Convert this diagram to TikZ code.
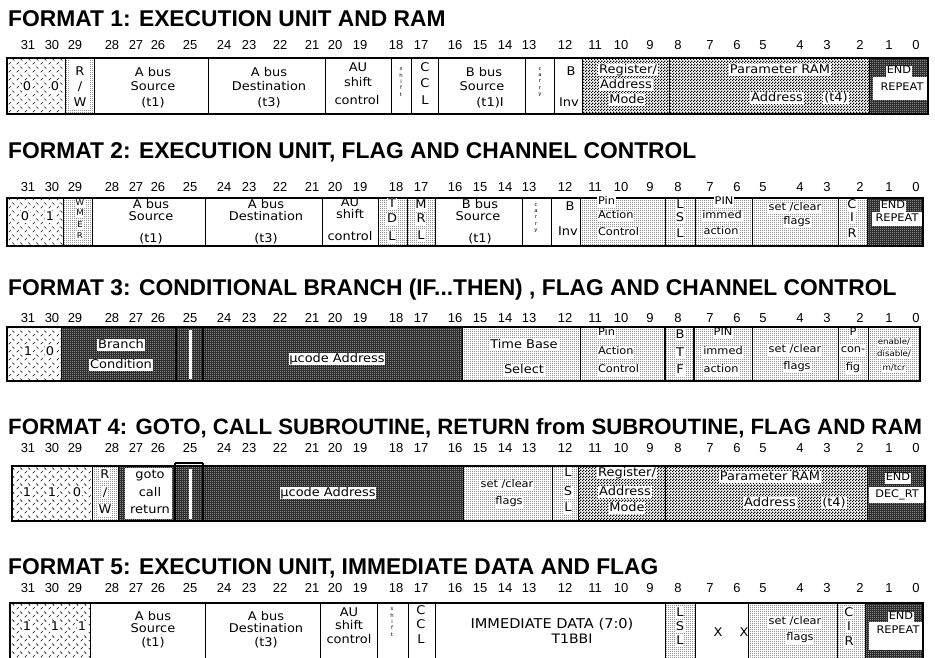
\documentclass[tikz,border=0pt]{standalone}
\usepackage{fontspec}
\setmainfont{Liberation Sans}
\newfontfamily\labfont[FakeStretch=1.08]{DejaVu Sans}
\usetikzlibrary{patterns}
\pgfdeclarepatternformonly{hdash}{\pgfqpoint{0pt}{0pt}}{\pgfqpoint{8pt}{8pt}}{\pgfqpoint{8pt}{8pt}}{%
  \pgfsetlinewidth{0.6pt}%
  \pgfpathmoveto{\pgfqpoint{0.8pt}{0.8pt}}\pgfpathlineto{\pgfqpoint{3pt}{3pt}}%
  \pgfpathmoveto{\pgfqpoint{4.8pt}{7pt}}\pgfpathlineto{\pgfqpoint{7pt}{4.8pt}}%
  \pgfusepath{stroke}}
\pgfdeclarepatternformonly{ldots}{\pgfqpoint{0pt}{0pt}}{\pgfqpoint{2pt}{2pt}}{\pgfqpoint{2pt}{2pt}}{%
  \pgfpathrectangle{\pgfqpoint{0pt}{0pt}}{\pgfqpoint{0.75pt}{0.75pt}}\pgfusepath{fill}}
\pgfdeclarepatternformonly{chk}{\pgfqpoint{0pt}{0pt}}{\pgfqpoint{3pt}{3pt}}{\pgfqpoint{3pt}{3pt}}{%
  \pgfpathrectangle{\pgfqpoint{0pt}{0pt}}{\pgfqpoint{1.5pt}{1.5pt}}%
  \pgfpathrectangle{\pgfqpoint{1.5pt}{1.5pt}}{\pgfqpoint{1.5pt}{1.5pt}}\pgfusepath{fill}}
\pgfdeclarepatternformonly{wdots}{\pgfqpoint{0pt}{0pt}}{\pgfqpoint{2pt}{2pt}}{\pgfqpoint{2pt}{2pt}}{%
  \pgfpathrectangle{\pgfqpoint{0pt}{0pt}}{\pgfqpoint{0.8pt}{0.8pt}}\pgfusepath{fill}}
\newcommand\bitrow[1]{%
  \foreach \b/\x in {31/28,30/52,29/75,28/112,27/136,26/158,25/190,24/224,23/249,22/280,21/312,20/335,19/360,18/396,17/421,16/455,15/480,14/505,13/529,12/565,11/595,10/621,9/650,8/678,7/710,6/737,5/763,4/800,3/827,2/860,1/889,0/916}
    \node[bn] (b#1-\b) at (\x,#1) {\b};}
\begin{document}
\begin{tikzpicture}[x=1pt,y=-1pt,
  ttl/.style={anchor=base west,inner sep=0,font=\fontsize{22.8}{22.8}\selectfont\bfseries},
  bn/.style={inner sep=0,font=\fontsize{13}{13}\selectfont},
  lab/.style={inner sep=0.8pt,font=\labfont\fontsize{12}{12}\selectfont,text height=8.4pt,text depth=2.2pt},
  wl/.style={lab,fill=white},
  sm/.style={inner sep=0.8pt,font=\labfont\fontsize{10.5}{10.5}\selectfont,text height=7.4pt,text depth=2pt},
  wsm/.style={sm,fill=white},
  xs/.style={inner sep=0.6pt,font=\labfont\fontsize{8}{8}\selectfont,text height=5.8pt,text depth=1.5pt,fill=white},
  tn/.style={inner sep=0.5pt,align=center,font=\labfont\fontsize{5}{6.4}\selectfont},
  sep/.style={line width=1pt},
  frame/.style={line width=1.3pt},
  hatch/.style={pattern=hdash},
  light/.style={pattern=ldots},
  check/.style={pattern=chk},
  dark/.style={preaction={fill=black!82},pattern=wdots,pattern color=white},
]
\useasboundingbox (0,0) rectangle (935,657);
\clip (0,0) rectangle (935,657);
\fill[white] (0,0) rectangle (935,657);

% ---------------- titles
\node[ttl] (t1) at (8,26) {FORMAT 1: EXECUTION UNIT AND RAM};
\node[ttl] (t2) at (8,158) {FORMAT 2: EXECUTION UNIT, FLAG AND CHANNEL CONTROL};
\node[ttl] (t3) at (8,295) {FORMAT 3: CONDITIONAL BRANCH (IF...THEN) , FLAG AND CHANNEL CONTROL};
\node[ttl,font=\fontsize{22.2}{22.2}\selectfont\bfseries] (t4) at (8,434) {FORMAT 4: GOTO, CALL SUBROUTINE, RETURN from SUBROUTINE, FLAG AND RAM};
\node[ttl] (t5) at (8,574) {FORMAT 5: EXECUTION UNIT, IMMEDIATE DATA AND FLAG};

\bitrow{45}
\bitrow{187}
\bitrow{318}
\bitrow{448}
\bitrow{588}

% ---------------- FORMAT 1
\path[hatch] (7,58) rectangle (65,114);
\path[light] (65,58) rectangle (94,114);
\fill[white] (69,60) rectangle (90,110);
\path[check] (582,58) rectangle (869,114);
\path[dark] (869,58) rectangle (928,114);
\fill[white] (873,77) rectangle (928,100);
\foreach \x in {65,94,208,325,391,411,438,525,554,582,669,869} \draw[sep] (\x,58) -- (\x,114);
\draw[frame] (7,58) rectangle (928,114);
\node[wl] (a1) at (27,87) {0}; \node[wl] (a2) at (55,87) {0};
\node[lab] (a3) at (80,72) {R}; \node[lab] (a4) at (80,87) {/}; \node[lab] (a5) at (80,103) {W};
\node[lab] (a6) at (153,73) {A bus}; \node[lab] (a7) at (153,87) {Source}; \node[lab] (a8) at (153,103) {(t1)};
\node[lab] (a9) at (269,73) {A bus}; \node[lab] (a10) at (269,87) {Destination}; \node[lab] (a11) at (269,103) {(t3)};
\node[lab] (a12) at (358,68) {AU}; \node[lab] (a13) at (358,83) {shift}; \node[lab] (a14) at (357,101) {control};
\node[tn] (a15) at (401,82) {s\\h\\i\\f\\t};
\node[lab] (a16) at (425,68) {C}; \node[lab] (a17) at (425,84) {C}; \node[lab] (a18) at (425,101) {L};
\node[lab] (a19) at (484,73) {B bus}; \node[lab] (a20) at (482,87) {Source}; \node[lab] (a21) at (490,103) {(t1)I};
\node[tn] (a22) at (540,82) {c\\a\\r\\r\\y};
\node[lab] (a23) at (571,72) {B}; \node[lab] (a24) at (569,103) {Inv};
\node[wl] (a25) at (628,70) {Register/}; \node[wl] (a26) at (626,85) {Address}; \node[wl] (a27) at (627,100) {Mode};
\node[wl] (a28) at (780,70) {Parameter RAM}; \node[wl] (a29) at (777,98) {Address}; \node[wl] (a30) at (836,98) {(t4)};
\begin{scope}
\clip (869,58) rectangle (928,114);
\node[wsm] (a31) at (899,71) {END}; \node[sm] (a32) at (902,88) {REPEAT};
\end{scope}

% ---------------- FORMAT 2
\path[hatch] (7,198) rectangle (63,246);
\path[light] (63,198) rectangle (92,246);
\path[light] (378,198) rectangle (435,246);
\path[light] (580,198) rectangle (867,246);
\path[dark] (867,198) rectangle (923,246);
\fill[white] (872,212) rectangle (923,226);
\foreach \x in {63,92,205,322,378,407,435,522,551,580,665,695,752,838,867} \draw[sep] (\x,198) -- (\x,246);
\draw[frame] (7,198) rectangle (923,246);
\node[wl] (c1) at (25,217) {0}; \node[wl] (c2) at (50,217) {1};
\node[xs] (c3) at (80,203) {W}; \node[xs] (c4) at (80,213) {M}; \node[xs] (c5) at (80,225) {E}; \node[xs] (c6) at (80,236) {R};
\node[lab] (c7) at (151,205) {A bus}; \node[lab] (c8) at (151,217) {Source}; \node[lab] (c9) at (151,239) {(t1)};
\node[lab] (c10) at (266,205) {A bus}; \node[lab] (c11) at (266,217) {Destination}; \node[lab] (c12) at (266,239) {(t3)};
\node[lab] (c13) at (350,203) {AU}; \node[lab] (c14) at (350,215) {shift}; \node[lab] (c15) at (350,237) {control};
\node[wl] (c16) at (392,204) {T}; \node[wl] (c17) at (392,219) {D}; \node[wl] (c18) at (392,237) {L};
\node[wl] (c19) at (421,205) {M}; \node[wl] (c20) at (421,219) {R}; \node[wl] (c21) at (421,236) {L};
\node[lab] (c22) at (480,205) {B bus}; \node[lab] (c23) at (478,217) {Source}; \node[lab] (c24) at (480,239) {(t1)};
\node[tn] (c25) at (536,218) {c\\a\\r\\r\\y};
\node[lab] (c26) at (570,207) {B}; \node[lab] (c27) at (568,232) {Inv};
\node[wsm,anchor=west] (c28) at (597,202) {Pin}; \node[wsm,anchor=west] (c29) at (597,216) {Action}; \node[wsm,anchor=west] (c30) at (597,233) {Control};
\node[wl] (c31) at (680,205) {L}; \node[wl] (c32) at (680,218) {S}; \node[wl] (c33) at (680,234) {L};
\node[wsm] (c34) at (724,202) {PIN}; \node[wsm] (c35) at (722,216) {immed}; \node[wsm] (c36) at (721,232) {action};
\node[wsm] (c37) at (795,208) {set /clear}; \node[wsm] (c38) at (797,222) {flags};
\node[wl] (c39) at (852,205) {C}; \node[wl] (c40) at (852,218) {I}; \node[wl] (c41) at (852,234) {R};
\begin{scope}
\clip (867,198) rectangle (923,246);
\node[wsm] (c42) at (893,206) {END}; \node[sm] (c43) at (897,219) {REPEAT};
\end{scope}

% ---------------- FORMAT 3
\path[hatch] (7,327) rectangle (61,381);
\path[dark] (61,327) rectangle (462,381);
\fill[white] (188.5,330) rectangle (192,379);
\path[light] (462,327) rectangle (920,381);
\foreach \x in {61,462,580,752,838,868} \draw[sep] (\x,327) -- (\x,381);
\draw[line width=1.6pt] (176,327) -- (176,381) (203,327) -- (203,381);
\draw[line width=2pt] (665,327) -- (665,381) (694,327) -- (694,381);
\draw[frame] (7,327) rectangle (920,381);
\node[wl] (d1) at (28,352) {1}; \node[wl] (d2) at (50,352) {0};
\node[wl] (d3) at (121,345) {Branch}; \node[wl] (d4) at (121,365) {Condition};
\node[wl] (d5) at (337,359) {µcode Address};
\node[wl] (d6) at (524,345) {Time Base}; \node[wl] (d7) at (524,370) {Select};
\node[wsm,anchor=west] (d8) at (597,333) {Pin}; \node[wsm,anchor=west] (d9) at (597,352) {Action}; \node[wsm,anchor=west] (d10) at (597,370) {Control};
\node[wl] (d11) at (680,335) {B}; \node[wl] (d12) at (680,353) {T}; \node[wl] (d13) at (680,370) {F};
\node[wsm] (d14) at (723,333) {PIN}; \node[wsm] (d15) at (723,352) {immed}; \node[wsm] (d16) at (721,370) {action};
\node[wsm] (d17) at (795,350) {set /clear}; \node[wsm] (d18) at (797,367) {flags};
\node[wsm] (d19) at (853,333) {P}; \node[wsm] (d20) at (853,350) {con-}; \node[wsm] (d21) at (853,368) {fig};
\begin{scope}
\clip (868,327) rectangle (920,381);
\node[xs] (d22) at (894,342) {enable/}; \node[xs] (d23) at (894,354) {disable/}; \node[xs] (d24) at (894,368) {m/tcr};
\end{scope}

% ---------------- FORMAT 4
\path[hatch] (12,466) rectangle (92,521);
\path[light] (92,466) rectangle (118,521);
\path[dark] (118,466) rectangle (463,521);
\fill[white] (125,468) rectangle (172,519);
\fill[white] (188.5,469) rectangle (192,519);
\path[light] (463,466) rectangle (578,521);
\path[check] (578,466) rectangle (867,521);
\path[dark] (867,466) rectangle (925,521);
\fill[white] (869,487) rectangle (925,503);
\foreach \x in {92,118,463,552,578,665,867} \draw[sep] (\x,466) -- (\x,521);
\draw[line width=1.6pt] (175,463) -- (175,521) (203,463) -- (203,521) (175,463) -- (203,463);
\draw[frame] (12,466) rectangle (925,521);
\node[wl] (e1) at (27,493) {1}; \node[wl] (e2) at (52,493) {1}; \node[wl] (e3) at (77,493) {0};
\node[wl] (e4) at (105,475) {R}; \node[wl] (e5) at (105,493) {/}; \node[wl] (e6) at (105,510) {W};
\node[lab] (e7) at (150,475) {goto}; \node[lab] (e8) at (150,493) {call}; \node[lab] (e9) at (150,510) {return};
\node[wl] (e10) at (328,493) {µcode Address};
\node[wsm] (e11) at (507,485) {set /clear}; \node[wsm] (e12) at (509,502) {flags};
\node[wl] (e13) at (568,473) {L}; \node[wl] (e14) at (568,492) {S}; \node[wl] (e15) at (568,508) {L};
\node[wl] (e16) at (627,473) {Register/}; \node[wl] (e17) at (625,492) {Address}; \node[wl] (e18) at (627,508) {Mode};
\node[wl] (e19) at (770,477) {Parameter RAM}; \node[wl] (e20) at (770,503) {Address}; \node[wl] (e21) at (834,503) {(t4)};
\begin{scope}
\clip (867,466) rectangle (925,521);
\node[wsm] (e22) at (898,478) {END}; \node[sm] (e23) at (897,495) {DEC\_RT};
\end{scope}

% ---------------- FORMAT 5
\path[hatch] (10,603) rectangle (90,670);
\path[light] (665,603) rectangle (695,670);
\path[light] (748,603) rectangle (865,670);
\path[dark] (865,603) rectangle (923,670);
\fill[white] (869,622) rectangle (923,650);
\foreach \x in {90,205,320,377,408,435,665,695,748,837,865} \draw[sep] (\x,603) -- (\x,670);
\draw[frame] (10,670) -- (10,603) -- (923,603) -- (923,670);
\node[wl] (f1) at (27,627) {1}; \node[wl] (f2) at (55,627) {1}; \node[wl] (f3) at (82,627) {1};
\node[lab] (f4) at (153,617) {A bus}; \node[lab] (f5) at (153,629) {Source}; \node[lab] (f6) at (153,643) {(t1)};
\node[lab] (f7) at (266,617) {A bus}; \node[lab] (f8) at (266,629) {Destination}; \node[lab] (f9) at (266,643) {(t3)};
\node[lab] (f10) at (349,613) {AU}; \node[lab] (f11) at (349,626) {shift}; \node[lab] (f12) at (349,640) {control};
\node[tn] (f13) at (392,622) {s\\h\\i\\f\\t};
\node[lab] (f14) at (421,611) {C}; \node[lab] (f15) at (421,625) {C}; \node[lab] (f16) at (421,640) {L};
\node[lab,font=\labfont\fontsize{13.5}{13.5}\selectfont] (f17) at (552,625) {IMMEDIATE DATA (7:0)}; \node[lab,font=\labfont\fontsize{13}{13}\selectfont] (f18) at (572,640) {T1BBI};
\node[wl] (f19) at (680,613) {L}; \node[wl] (f20) at (680,627) {S}; \node[wl] (f21) at (680,641) {L};
\node[lab] (f22) at (718,633) {X}; \node[lab] (f23) at (744,633) {X};
\node[wsm] (f24) at (795,622) {set /clear}; \node[wsm] (f25) at (800,638) {flags};
\node[wl] (f26) at (849,613) {C}; \node[wl] (f27) at (849,627) {I}; \node[wl] (f28) at (849,642) {R};
\begin{scope}
\clip (865,603) rectangle (923,670);
\node[wsm] (f29) at (901,617) {END}; \node[sm] (f30) at (898,631) {REPEAT};
\end{scope}
\end{tikzpicture}
\end{document}
